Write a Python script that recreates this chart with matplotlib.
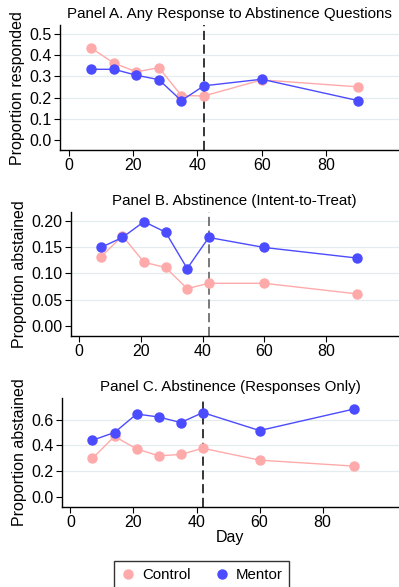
import matplotlib
matplotlib.use("Agg")
import matplotlib.pyplot as plt
from matplotlib.lines import Line2D

plt.rcParams["font.family"] = ["Liberation Sans", "DejaVu Sans"]

days = [7, 14, 21, 28, 35, 42, 60, 90]

# Panel A: any response
resp_control = [0.434, 0.363, 0.322, 0.342, 0.210, 0.208, 0.284, 0.251]
resp_mentor = [0.334, 0.334, 0.306, 0.285, 0.186, 0.256, 0.287, 0.186]

# Panel B: abstinence, intent-to-treat
itt_control = [0.131, 0.171, 0.121, 0.111, 0.071, 0.081, 0.081, 0.061]
itt_mentor = [0.149, 0.168, 0.198, 0.178, 0.109, 0.168, 0.149, 0.129]

# Panel C: abstinence, responders only
ro_control = [0.300, 0.470, 0.373, 0.320, 0.330, 0.378, 0.286, 0.240]
ro_mentor = [0.440, 0.500, 0.643, 0.620, 0.577, 0.654, 0.515, 0.682]

titles = ["Panel A. Any Response to Abstinence Questions",
          "Panel B. Abstinence (Intent-to-Treat)",
          "Panel C. Abstinence (Responses Only)"]
ylabels = ["Proportion responded", "Proportion abstained", "Proportion abstained"]
yticks = [[0.0, 0.1, 0.2, 0.3, 0.4, 0.5],
          [0.00, 0.05, 0.10, 0.15, 0.20],
          [0.0, 0.2, 0.4, 0.6]]
yfmt = ["%.1f", "%.2f", "%.1f"]
xticks = [0, 20, 40, 60, 80]

c_control = "#ffaaaa"
c_mentor = "#4b4bff"

fig = plt.figure(figsize=(3.99, 5.87), dpi=100)

# [left, bottom, width, height], xlim, ylim
layout = [
    ([0.150, 0.7445, 0.85, 0.2125], (-2.8, 102.7), (-0.047, 0.542)),
    ([0.177, 0.4276, 0.823, 0.2114], (-2.8, 103.7), (-0.019, 0.2165)),
    ([0.155, 0.137, 0.845, 0.185], (-2.7, 104.2), (-0.073, 0.767)),
]
series = [(resp_control, resp_mentor), (itt_control, itt_mentor), (ro_control, ro_mentor)]
vcolors = ["black", "#555555", "black"]

for i, (pos, xl, yl) in enumerate(layout):
    ax = fig.add_axes(pos)
    ctrl, ment = series[i]
    for t in yticks[i][1:]:
        ax.axhline(t, color="#e4ecef", lw=0.9, zorder=0)
    ax.axvline(42, color=vcolors[i], lw=1.1, ls=(0, (6, 3)), zorder=1)
    ax.plot(days, ctrl, color=c_control, lw=1.0, marker="o", ms=6.5, mec=c_control, zorder=2)
    ax.plot(days, ment, color=c_mentor, lw=1.0, marker="o", ms=6.5, mec=c_mentor, zorder=3)
    ax.set_xlim(*xl)
    ax.set_ylim(*yl)
    ax.set_xticks(xticks)
    ax.set_yticks(yticks[i])
    ax.set_yticklabels([yfmt[i] % t for t in yticks[i]])
    ax.spines["top"].set_visible(False)
    ax.spines["right"].set_visible(False)
    ax.spines["left"].set_linewidth(1.0)
    ax.spines["bottom"].set_linewidth(1.0)
    ax.tick_params(labelsize=11.5, length=4, width=0.8, pad=2)
    ax.set_ylabel(ylabels[i], fontsize=11.5, labelpad=3)
    ax.set_title(titles[i], fontsize=10.9, pad=5)
    if i == 2:
        ax.set_xlabel("Day", fontsize=11.5, labelpad=0)

handles = [Line2D([], [], ls="none", marker="o", ms=6.5, color=c_control),
           Line2D([], [], ls="none", marker="o", ms=6.5, color=c_mentor)]
leg = fig.legend(handles, ["Control", "Mentor"], loc="upper center",
                 bbox_to_anchor=(0.505, 1 - 561 / 587), ncol=2, fontsize=10.8,
                 frameon=True, fancybox=False, edgecolor="black",
                 handlelength=1.0, handletextpad=0.4, columnspacing=1.6,
                 borderpad=0.45, borderaxespad=0)
leg.get_frame().set_linewidth(1.0)

fig.savefig("out.png", dpi=100)
